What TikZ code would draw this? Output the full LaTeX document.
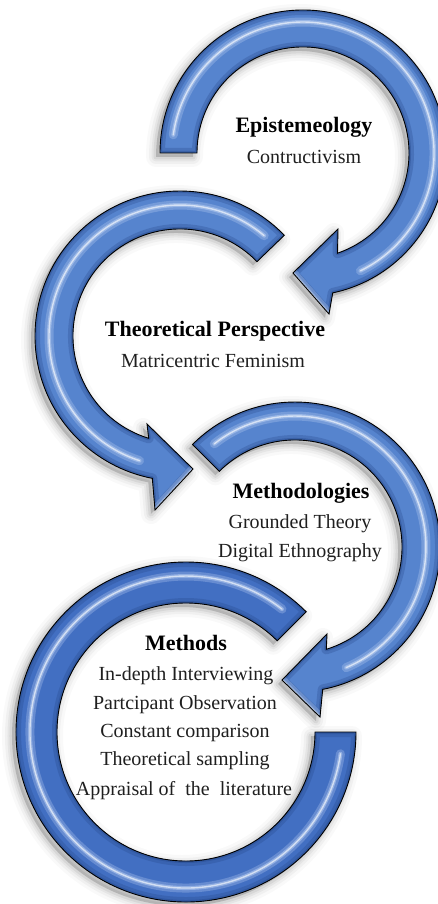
\documentclass[tikz,border=0pt]{standalone}
\usepackage{fontspec}
\setmainfont{Liberation Serif}
\usetikzlibrary{calc}

\definecolor{ringblue}{RGB}{86,132,206}
\definecolor{ringdeep}{RGB}{66,111,194}
\definecolor{edgeblue}{RGB}{36,70,136}
\definecolor{glint}{RGB}{200,218,248}

% soft drop shadow behind a ring
\newcommand\ringshadow[1]{%
  \foreach \w/\o in {20/0.025,14/0.035,9/0.045,5/0.06}{%
    \draw[black, fill=black, line width=\w pt, line join=round, opacity=\o,
      transform canvas={shift={(-4pt,-4pt)}}] #1;}%
}
% bevelled body: fill, darkened rim, glossy streak, outline
\newcommand\ringbody[3]{%
  \fill[#2] #1;
  \begin{scope}
    \clip #1;
    \draw[edgeblue, line width=10pt, opacity=0.28, line join=round] #1;
    \draw[edgeblue, line width=4pt, opacity=0.40, line join=round] #1;
    \draw[glint, line width=9pt, opacity=0.28, line cap=round] #3;
    \draw[glint, line width=4pt, opacity=0.45, line cap=round] #3;
    \draw[white, line width=1.4pt, opacity=0.60, line cap=round] #3;
  \end{scope}
  \draw[black, line width=0.9pt] #1;
}

% ring outlines (image coordinates, y grows downwards)
\newcommand\pathA{(160,153) arc[start angle=180,end angle=438,radius=143]
  -- (329,314) -- (293,273) -- (338,229) -- (337.5,253.2)
  arc[start angle=431,end angle=180,radius=106] -- cycle}
\newcommand\pathB{(284.3,235.3) arc[start angle=-44,end angle=-259,radius=145]
  -- (155,510) -- (193,469) -- (147,424) -- (148.7,438.3)
  arc[start angle=-253,end angle=-44,radius=107] -- cycle}
\newcommand\pathC{(192.5,444.5) arc[start angle=225,end angle=439,radius=145]
  -- (320,717) -- (282,680) -- (327,634) -- (326.3,649.3)
  arc[start angle=433,end angle=225,radius=107] -- cycle}
\newcommand\pathD{(306.2,611.8) arc[start angle=-45,end angle=-360,radius=170]
  -- (315,732) arc[start angle=-360,end angle=-45,radius=129] -- cycle}

% glossy streaks
\newcommand\glossA{(173.3,134.8) arc[start angle=188,end angle=424,radius=131] (293,273) -- (329,314)}
\newcommand\glossB{(264.2,235.7) arc[start angle=-50,end angle=-252,radius=131] (193,469) -- (155,510)}
\newcommand\glossC{(214.3,443.8) arc[start angle=232,end angle=427,radius=131] (282,680) -- (320,717)}
\newcommand\glossD{(282,609.1) arc[start angle=-52,end angle=-352,radius=156]}

\tikzset{
  title/.style={font=\fontsize{22}{26}\selectfont\bfseries, anchor=base, inner sep=0pt},
  entry/.style={font=\fontsize{20}{24}\selectfont, anchor=base, inner sep=0pt, text=black!88},
}

\begin{document}
\begin{tikzpicture}[x=1pt, y=1pt, yscale=-1]
  \fill[white] (0,0) rectangle (438,904);
  \useasboundingbox (0,0) rectangle (438,904);
  \clip (0,0) rectangle (438,904);

  % shadows first so no shadow falls on a ring
  \ringshadow{\pathD}
  \ringshadow{\pathC}
  \ringshadow{\pathB}
  \ringshadow{\pathA}

  \ringbody{\pathD}{ringdeep}{\glossD}
  \ringbody{\pathC}{ringblue}{\glossC}
  \ringbody{\pathB}{ringblue}{\glossB}
  \ringbody{\pathA}{ringblue}{\glossA}

  % Epistemology
  \node[title] (epi) at (304,133) {Epistemeology};
  \node[entry] (epi1) at (304,164) {Contructivism};

  % Theoretical perspective
  \node[title] (theo) at (215,336) {Theoretical Perspective};
  \node[entry] (theo1) at (213,367) {Matricentric Feminism};

  % Methodologies
  \node[title] (meth) at (301,498) {Methodologies};
  \node[entry] (meth1) at (300,528) {Grounded Theory};
  \node[entry] (meth2) at (300,557) {Digital Ethnography};

  % Methods
  \node[title] (mtd) at (186,650) {Methods};
  \node[entry] (mtd1) at (186,680) {In-depth Interviewing};
  \node[entry] (mtd2) at (185,709) {Partcipant Observation};
  \node[entry] (mtd3) at (185,737) {Constant comparison};
  \node[entry] (mtd4) at (185,765) {Theoretical sampling};
  \node[entry] (mtd5) at (184,795) {Appraisal of\ \ the\ \ literature};
\end{tikzpicture}
\end{document}
